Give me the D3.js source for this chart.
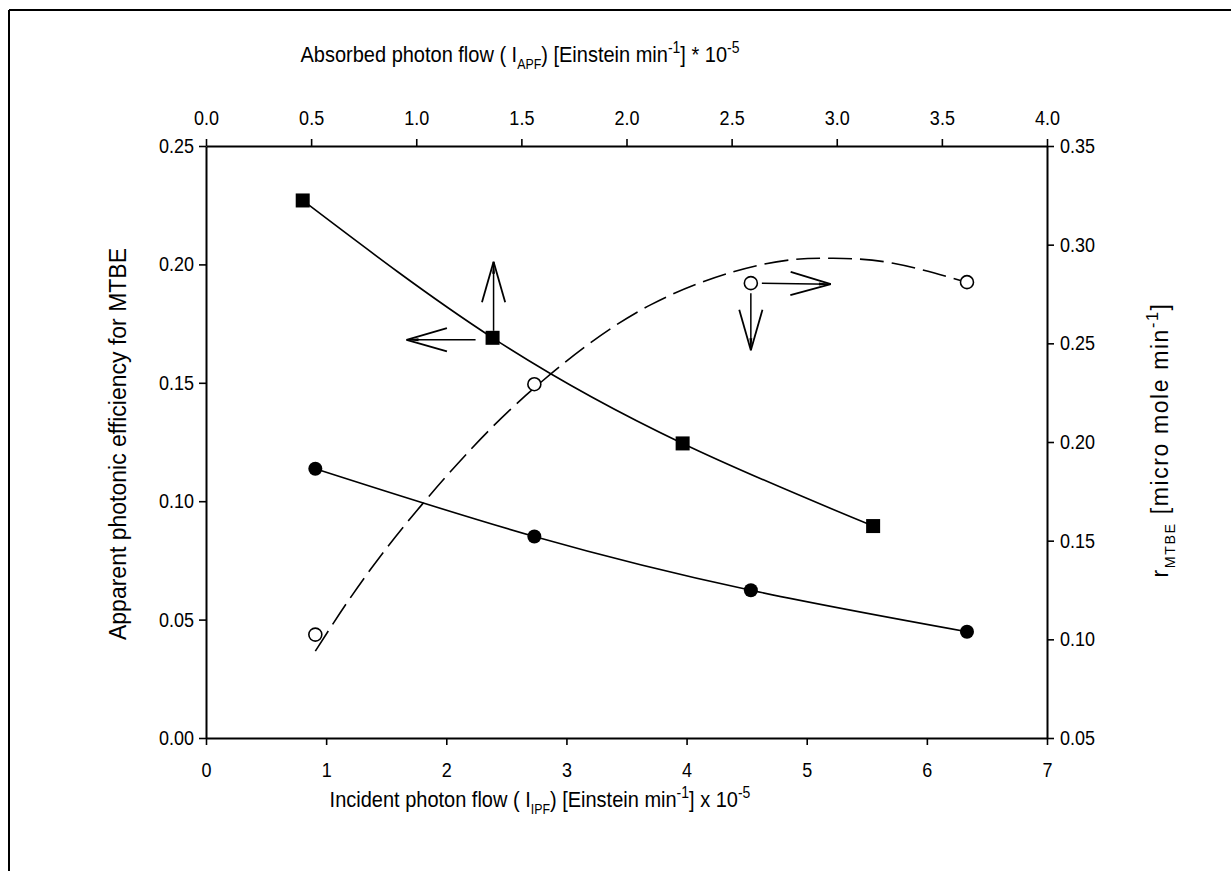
<!DOCTYPE html>
<html>
<head>
<meta charset="utf-8">
<script src="https://cdn.jsdelivr.net/npm/d3@7/dist/d3.min.js"></script>
<style>
  html, body { margin: 0; padding: 0; background: #fff; }
  svg { display: block; font-family: "Liberation Sans", Arial, sans-serif; }
</style>
</head>
<body>
<svg id="chart" width="1231" height="871"></svg>
<script>
// Apparent photonic efficiency (left axis) and MTBE rate (right axis)
// against incident (bottom) and absorbed (top) photon flow.

// Filled squares: efficiency vs absorbed photon flow (top axis)
const absorbedFlow = [0.46, 1.363, 2.267, 3.173];
const efficiencyAbsorbed = [0.227, 0.169, 0.1244, 0.0895];

// Filled circles: efficiency vs incident photon flow (bottom axis)
const incidentFlow = [0.91, 2.733, 4.535, 6.334];
const efficiencyIncident = [0.1137, 0.0851, 0.0624, 0.0449];

// Open circles: MTBE rate (right axis) vs incident photon flow
const rateMTBE = [0.1024, 0.2293, 0.2805, 0.281];

// Dashed trend line through the rate data
const rateTrendX = [0.91, 1.45, 2.2, 2.88, 3.7, 4.61, 5.22, 5.72, 6.33];
const rateTrendY = [0.094, 0.142, 0.196, 0.235, 0.2695, 0.2897, 0.2931, 0.2906, 0.281];

// Tick values
const bottomTicks = [0, 1, 2, 3, 4, 5, 6, 7];
const topTicks = [0, 0.5, 1, 1.5, 2, 2.5, 3, 3.5, 4];
const leftTicks = [0, 0.05, 0.10, 0.15, 0.20, 0.25];
const rightTicks = [0.05, 0.10, 0.15, 0.20, 0.25, 0.30, 0.35];

const svg = d3.select("#chart");
const L = 206, R = 1047, T = 146, B = 738;
const STRETCH = 1.12; // glyphs are slightly tall in this figure

const x = d3.scaleLinear().domain([0, 7]).range([L, R]);
const xTop = d3.scaleLinear().domain([0, 4]).range([L, R]);
const yL = d3.scaleLinear().domain([0, 0.25]).range([B, T]);
const yR = d3.scaleLinear().domain([0.05, 0.35]).range([B, T]);

// Outer frame (top and left edges)
svg.append("line").attr("x1", 9).attr("y1", 10).attr("x2", 1231).attr("y2", 10)
  .attr("stroke", "#000").attr("stroke-width", 2);
svg.append("line").attr("x1", 9).attr("y1", 10).attr("x2", 9).attr("y2", 871)
  .attr("stroke", "#000").attr("stroke-width", 2);

const tickFont = 18;

function styleAxis(g) {
  g.selectAll(".domain").attr("stroke", "#000").attr("stroke-width", 2);
  g.selectAll(".tick line").attr("stroke", "#000").attr("stroke-width", 1.6);
  g.selectAll(".tick text").attr("fill", "#000").style("font-size", tickFont + "px")
    .style("font-family", "'Liberation Sans', Arial, sans-serif")
    .attr("transform", `scale(1,${STRETCH})`);
}

svg.append("g").attr("transform", `translate(0,${B})`)
  .call(d3.axisBottom(x).tickValues(bottomTicks).tickFormat(d3.format("d"))
    .tickSizeInner(7).tickSizeOuter(0).tickPadding(15))
  .call(styleAxis);

svg.append("g").attr("transform", `translate(0,${T})`)
  .call(d3.axisTop(xTop).tickValues(topTicks).tickFormat(d3.format(".1f"))
    .tickSizeInner(7).tickSizeOuter(0).tickPadding(12))
  .call(styleAxis);

svg.append("g").attr("transform", `translate(${L},0)`)
  .call(d3.axisLeft(yL).tickValues(leftTicks).tickFormat(d3.format(".2f"))
    .tickSizeInner(7).tickSizeOuter(0).tickPadding(5))
  .call(styleAxis);

svg.append("g").attr("transform", `translate(${R},0)`)
  .call(d3.axisRight(yR).tickValues(rightTicks).tickFormat(d3.format(".2f"))
    .tickSizeInner(7).tickSizeOuter(0).tickPadding(6))
  .call(styleAxis);

// Axis titles with sub/superscripts
function richText(el, parts, size) {
  parts.forEach(p => {
    const t = el.append("tspan").text(p.t);
    if (p.sub) t.attr("dy", size * 0.3).style("font-size", (size * 0.62) + "px");
    if (p.sup) t.attr("dy", -size * 0.42).style("font-size", (size * 0.7) + "px");
    if (p.back) t.attr("dy", p.back);
  });
}
const titleSize = 20;

const topTitle = svg.append("text")
  .attr("transform", `translate(520,62) scale(1,${STRETCH})`)
  .attr("text-anchor", "middle").style("font-size", titleSize + "px");
richText(topTitle, [
  { t: "Absorbed photon flow ( I" },
  { t: "APF", sub: true },
  { t: ") [Einstein min", back: -titleSize * 0.3 },
  { t: "-1", sup: true },
  { t: "] * 10", back: titleSize * 0.42 },
  { t: "-5", sup: true }
], titleSize);

const bottomTitle = svg.append("text")
  .attr("transform", `translate(540,807) scale(1,${STRETCH})`)
  .attr("text-anchor", "middle").style("font-size", titleSize + "px");
richText(bottomTitle, [
  { t: "Incident photon flow ( I" },
  { t: "IPF", sub: true },
  { t: ") [Einstein min", back: -titleSize * 0.3 },
  { t: "-1", sup: true },
  { t: "] x 10", back: titleSize * 0.42 },
  { t: "-5", sup: true }
], titleSize);

svg.append("text").attr("transform", `translate(126,${(T + B) / 2 + 2}) rotate(-90)`)
  .attr("text-anchor", "middle").style("font-size", "23px")
  .text("Apparent photonic efficiency for MTBE");

const rightSize = 23;
const rightTitle = svg.append("text").attr("transform", `translate(1168,${(T + B) / 2 - 2}) rotate(-90)`)
  .attr("text-anchor", "middle").style("font-size", rightSize + "px")
  .style("letter-spacing", "1.6px");
richText(rightTitle, [
  { t: "r" },
  { t: "MTBE", sub: true },
  { t: " [micro mole min", back: -rightSize * 0.3 },
  { t: "-1", sup: true },
  { t: "]", back: rightSize * 0.42 }
], rightSize);

// Curves
const lineAbs = d3.line().x(d => xTop(d[0])).y(d => yL(d[1])).curve(d3.curveNatural);
const lineInc = d3.line().x(d => x(d[0])).y(d => yL(d[1])).curve(d3.curveNatural);
const lineRate = d3.line().x(d => x(d[0])).y(d => yR(d[1])).curve(d3.curveNatural);

svg.append("path").datum(d3.zip(absorbedFlow, efficiencyAbsorbed))
  .attr("d", lineAbs).attr("fill", "none").attr("stroke", "#000").attr("stroke-width", 1.6);
svg.append("path").datum(d3.zip(incidentFlow, efficiencyIncident))
  .attr("d", lineInc).attr("fill", "none").attr("stroke", "#000").attr("stroke-width", 1.6);
svg.append("path").datum(d3.zip(rateTrendX, rateTrendY))
  .attr("d", lineRate).attr("fill", "none").attr("stroke", "#000").attr("stroke-width", 1.6)
  .attr("stroke-dasharray", "24,8");

// Markers
svg.selectAll(".sq").data(d3.zip(absorbedFlow, efficiencyAbsorbed)).join("rect")
  .attr("x", d => xTop(d[0]) - 7).attr("y", d => yL(d[1]) - 7)
  .attr("width", 14).attr("height", 14).attr("fill", "#000");
svg.selectAll(".fc").data(d3.zip(incidentFlow, efficiencyIncident)).join("circle")
  .attr("cx", d => x(d[0])).attr("cy", d => yL(d[1])).attr("r", 7).attr("fill", "#000");
svg.selectAll(".oc").data(d3.zip(incidentFlow, rateMTBE)).join("circle")
  .attr("cx", d => x(d[0])).attr("cy", d => yR(d[1])).attr("r", 6.5)
  .attr("fill", "#fff").attr("stroke", "#000").attr("stroke-width", 1.6);

// Arrows marking which axes each series belongs to
function arrow(x0, y0, x1, y1) {
  const g = svg.append("g").attr("stroke", "#000").attr("fill", "#000");
  g.append("line").attr("x1", x0).attr("y1", y0).attr("x2", x1).attr("y2", y1).attr("stroke-width", 1.5);
  const ang = Math.atan2(y1 - y0, x1 - x0);
  const len = 42, spread = 0.28;
  const b1 = [x1 - len * Math.cos(ang - spread), y1 - len * Math.sin(ang - spread)];
  const b2 = [x1 - len * Math.cos(ang + spread), y1 - len * Math.sin(ang + spread)];
  g.append("line").attr("x1", x1).attr("y1", y1).attr("x2", b1[0]).attr("y2", b1[1]).attr("stroke-width", 1.8);
  g.append("line").attr("x1", x1).attr("y1", y1).attr("x2", b2[0]).attr("y2", b2[1]).attr("stroke-width", 1.8);
  const n = 12, s = 0.12;
  g.append("path").attr("stroke", "none").attr("d",
    `M${x1},${y1}L${x1 - n * Math.cos(ang - s)},${y1 - n * Math.sin(ang - s)}L${x1 - n * Math.cos(ang + s)},${y1 - n * Math.sin(ang + s)}Z`);
}
const sq2 = [xTop(absorbedFlow[1]), yL(efficiencyAbsorbed[1])];
arrow(sq2[0] + 1, sq2[1] - 7, sq2[0] + 1, sq2[1] - 76);
arrow(sq2[0] - 17, sq2[1] + 2, sq2[0] - 86, sq2[1] + 2);
const oc3 = [x(incidentFlow[2]), yR(rateMTBE[2])];
arrow(oc3[0] + 11, oc3[1], oc3[0] + 80, oc3[1] + 1);
arrow(oc3[0], oc3[1] + 10, oc3[0], oc3[1] + 67);
</script>
</body>
</html>
